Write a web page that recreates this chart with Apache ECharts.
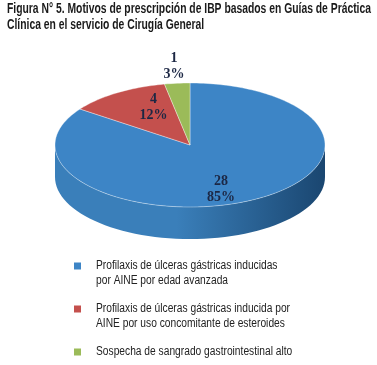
<!DOCTYPE html>
<html>
<head>
<meta charset="utf-8">
<script src="https://cdn.jsdelivr.net/npm/echarts@6/dist/echarts.min.js"></script>
<style>
  html, body { margin: 0; padding: 0; background: #fff; }
  #chart { width: 377px; height: 365px; }
</style>
</head>
<body>
<div id="chart"></div>
<script>
const titleLines = [
  'Figura N° 5. Motivos de prescripción de IBP basados en Guías de Práctica',
  'Clínica en el servicio de Cirugía General'
]
const categories = [
  'Profilaxis de úlceras gástricas inducidas\npor AINE por edad avanzada',
  'Profilaxis de úlceras gástricas inducida por\nAINE por uso concomitante de esteroides',
  'Sospecha de sangrado gastrointestinal alto'
]
const counts = [28, 4, 1]
const percents = ['85%', '12%', '3%']
const colors = ['#3d85c6', '#c4504d', '#9bbb59']
const sideColors = [['#3a7fba', '#1a4670'], ['#9a3b39', '#7a2c2a'], ['#7a9645', '#5f7535']]

const total = counts.reduce((a, b) => a + b, 0)
const SANS = '"Liberation Sans", Arial, sans-serif'

// condensed look: squeeze a regular font so a line fits the wanted width
const ctx = document.createElement('canvas').getContext('2d')
function squeeze(font, text, width) {
  ctx.font = font
  return width / ctx.measureText(text).width
}
const titleFont = 'bold 14px ' + SANS
const titleScale = squeeze(titleFont, titleLines[0], 364)
const legendFont = '12.5px ' + SANS
const legendScale = squeeze(legendFont, 'Profilaxis de úlceras gástricas inducida por', 194)

const chart = echarts.init(document.getElementById('chart'))

function ellipsePt(cx, cy, rx, ry, a) {
  return [cx + rx * Math.cos(a), cy + ry * Math.sin(a)]
}

function renderSlice(params, api) {
  const i = params.dataIndex
  const cx = 190, cy = 145, rx = 135, ry = 62, depth = 32
  let before = 0
  for (let k = 0; k < i; k++) before += counts[k]
  const a0 = -Math.PI / 2 + (before / total) * Math.PI * 2
  const a1 = a0 + (api.value(0) / total) * Math.PI * 2
  const children = []

  // side band, only the front half (0..PI) shows
  for (let off = -2 * Math.PI; off <= 2 * Math.PI; off += 2 * Math.PI) {
    const s = Math.max(a0, off), e = Math.min(a1, off + Math.PI)
    if (e > s) {
      const pts = []
      const n = 60
      for (let j = 0; j <= n; j++) pts.push(ellipsePt(cx, cy, rx, ry, s + (e - s) * j / n))
      for (let j = n; j >= 0; j--) {
        const p = ellipsePt(cx, cy, rx, ry, s + (e - s) * j / n)
        pts.push([p[0], p[1] + depth])
      }
      children.push({
        type: 'polygon',
        shape: { points: pts },
        style: {
          fill: new echarts.graphic.LinearGradient(0, 0, 1, 0, [
            { offset: 0, color: sideColors[i][0] },
            { offset: 0.45, color: sideColors[i][0] },
            { offset: 1, color: sideColors[i][1] }
          ])
        }
      })
    }
  }

  // top face
  const top = [[cx, cy]]
  const n = Math.max(4, Math.ceil((a1 - a0) * 40))
  for (let j = 0; j <= n; j++) top.push(ellipsePt(cx, cy, rx, ry, a0 + (a1 - a0) * j / n))
  children.push({
    type: 'polygon',
    shape: { points: top },
    style: { fill: colors[i], stroke: 'rgba(255,255,255,0.6)', lineWidth: 0.6 }
  })

  // label
  const mid = (a0 + a1) / 2
  const outside = api.value(0) / total < 0.05
  const kx = outside ? 1.25 : 0.5
  const ky = outside ? 1.27 : 0.72
  children.push({
    type: 'text',
    x: cx + rx * kx * Math.cos(mid),
    y: cy + ry * ky * Math.sin(mid) + (i === 0 ? depth * 0.15 : 0),
    style: {
      text: api.value(0) + '\n' + percents[i],
      fill: '#1c2744',
      font: 'bold 14px "Liberation Serif", "DejaVu Serif", serif',
      lineHeight: 16,
      align: 'center',
      verticalAlign: 'middle'
    }
  })
  return { type: 'group', children }
}

const graphics = []
titleLines.forEach((t, k) => {
  graphics.push({
    type: 'text', x: 7, y: 2 + k * 16, scaleX: titleScale,
    style: { text: t, fill: '#1a1a1a', font: titleFont }
  })
})
let ly = 266
categories.forEach((c, k) => {
  graphics.push({
    type: 'rect', shape: { x: 74, y: ly - 3.5, width: 7, height: 7 },
    style: { fill: colors[k] }
  })
  graphics.push({
    type: 'text', x: 96, y: ly - 7.5, scaleX: legendScale,
    style: { text: c, fill: '#222', font: legendFont, lineHeight: 15 }
  })
  const lines = c.split('\n').length
  ly += lines * 15 + 13
})

chart.setOption({
  backgroundColor: '#fff',
  animation: false,
  graphic: graphics,
  series: [
    {
      type: 'custom',
      coordinateSystem: 'none',
      renderItem: renderSlice,
      data: counts.map((v, k) => ({ value: [v], name: categories[k] }))
    }
  ]
})
</script>
</body>
</html>
